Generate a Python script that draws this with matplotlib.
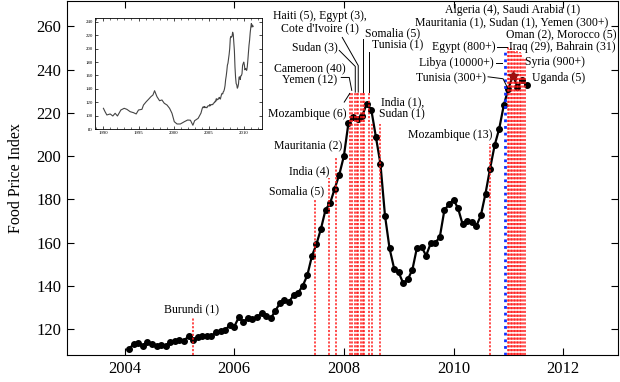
import matplotlib
matplotlib.use("Agg")
import matplotlib.pyplot as plt
import numpy as np

plt.rcParams['font.family'] = ['Liberation Serif', 'DejaVu Serif']

# FAO food price index, monthly, Feb 2004 .. May 2011
fpi = [111, 113, 113.4, 112, 114, 113, 112.2, 112.6, 112, 114.2, 114.7,
       115, 114.5, 116.8, 115, 116.3, 116.8, 116.9, 116.6, 118.6, 119.3, 119.5, 121.8,
       121.1, 125.4, 123.4, 124.9, 124.5, 125.4, 127.5, 126, 124.9, 128.5, 131.9, 133.4,
       132.6, 135.7, 136.8, 140, 144.9, 153.7, 159.3, 166.5, 175.3, 178.3, 185, 191.5,
       200, 215.3, 218, 217, 218.5, 224.3, 221.5, 209, 196.5, 172.5, 157.3, 148,
       146.2, 141.1, 143, 147.5, 157.7, 158, 154, 159.6, 159.9, 162.6, 175, 177.7,
       179.9, 175.8, 168.4, 170, 169.6, 167.7, 172.7, 182.7, 194.2, 205, 212.7, 223.5,
       231.2, 237.3, 232, 235, 232.7]
first_month = 2  # february 2004

# long run series for the inset, 1990-2003 (after that the monthly data above)
inset_years = [1990.0, 1990.24, 1990.49, 1990.96, 1991.34, 1991.67, 1992.0, 1992.49,
               1992.96, 1993.34, 1993.81, 1994.29, 1994.67, 1995.0, 1995.49, 1995.71,
               1996.1, 1996.43, 1996.77, 1997.06, 1997.29, 1997.63, 1998.0, 1998.34,
               1998.67, 1999.06, 1999.43, 1999.77, 2000.1, 2000.49, 2000.96, 2001.53,
               2002.0, 2002.4, 2002.75, 2003.0, 2003.5, 2003.9]
inset_vals = [111.2, 106, 101.3, 102.8, 99.8, 103.8, 99.8, 108.7,
              111.2, 109.7, 106.2, 104.7, 102.8, 108.7, 109.7, 116.1,
              121, 124.6, 128.5, 131, 137.4, 128.5, 122.5, 123.6,
              118.7, 116.1, 111.2, 103.8, 91.3, 87.9, 87.9, 91.3,
              93.8, 93.5, 86, 92.8, 96.3, 104]

# unrest events (red dotted lines): date and how high the line goes
riot_dates = [2005.244, 2007.479, 2007.734, 2007.856,
              2008.107, 2008.144, 2008.208, 2008.235, 2008.262, 2008.311, 2008.341, 2008.372, 2008.454,
              2008.522, 2008.658, 2010.667,
              2010.985, 2011.013, 2011.040, 2011.067, 2011.095, 2011.122, 2011.149,
              2011.177, 2011.204, 2011.231, 2011.259, 2011.295]
riot_tops = [125.7, 179.6, 189.9, 199.6,
             229.6, 229.6, 229.6, 229.6, 229.6, 229.6, 229.6, 229.6, 229.6,
             215, 215, 205.7,
             250.3, 249.5, 250, 248.5, 249, 248, 248.5,
             247.5, 248, 247.5, 246, 245]
warning_date = 2010.94   # report sent, blue line
warning_top = 249

labels = [
    ("Burundi (1)", 2005.214, 129.1, "center"),
    ("Somalia (5)", 2007.643, 183.9, "right"),
    ("India (4)", 2007.734, 193.0, "right"),
    ("Mauritania (2)", 2007.964, 204.7, "right"),
    ("Mozambique (6)", 2008.049, 219.3, "right"),
    ("Cameroon (40)", 2007.370, 240.4, "center"),
    ("Yemen (12)", 2007.379, 235.0, "center"),
    ("Haiti (5), Egypt (3),", 2007.570, 264.7, "center"),
    ("Cote d'Ivoire (1)", 2007.570, 259.3, "center"),
    ("Sudan (3)", 2007.479, 250.4, "center"),
    ("Somalia (5)", 2008.390, 257.0, "left"),
    ("Tunisia (1)", 2008.512, 251.2, "left"),
    ("India (1),", 2008.676, 225.0, "left"),
    ("Sudan (1)", 2008.645, 219.6, "left"),
    ("Mozambique (13)", 2010.708, 209.9, "right"),
    ("Algeria (4), Saudi Arabia (1)", 2011.073, 267.6, "center"),
    ("Mauritania (1), Sudan (1), Yemen (300+)", 2011.058, 261.9, "center"),
    ("Oman (2), Morocco (5)", 2010.964, 255.8, "left"),
    ("Iraq (29), Bahrain (31)", 2011.013, 250.4, "left"),
    ("Egypt (800+)", 2010.770, 250.4, "right"),
    ("Libya (10000+)", 2010.740, 243.2, "right"),
    ("Syria (900+)", 2011.304, 243.5, "left"),
    ("Tunisia (300+)", 2010.599, 236.2, "right"),
    ("Uganda (5)", 2011.426, 236.2, "left"),
]

leaders = [
    [(2008.007, 225.0), (2008.107, 229.0)],
    [(2007.953, 236.4), (2008.098, 236.4), (2008.144, 230.4)],
    [(2007.916, 248.9), (2008.208, 241.5), (2008.208, 229.6)],
    [(2007.971, 254.9), (2008.262, 241.9), (2008.262, 229.6)],
    [(2008.341, 254.0), (2008.341, 229.6)],
    [(2008.454, 248.4), (2008.454, 229.6)],
    [(2010.794, 250.4), (2010.976, 250.4)],
    [(2010.776, 243.2), (2010.885, 243.2)],
    [(2010.630, 236.7), (2010.903, 235.8), (2010.981, 231.8)],
]

x = 2004 + (np.arange(len(fpi)) + first_month - 1) / 12.0
ymin = 108

fig = plt.figure(figsize=(6.2, 3.82), dpi=100)
ax = fig.add_axes([67 / 620, 27 / 382, 551 / 620, 354.5 / 382])

ax.plot(x, fpi, color='black', lw=1.6, marker='o', ms=4, zorder=3)
star = int(np.argmax(fpi))
ax.plot(x[star], fpi[star], marker='*', color='#a01010', ms=7, zorder=6)

for d, t in zip(riot_dates, riot_tops):
    ax.plot([d, d], [ymin, t], color='#ff1a1a', lw=1.1, ls=(0, (1.4, 1.1)), zorder=4)
ax.plot([warning_date, warning_date], [ymin, warning_top], color='#1030ff',
        lw=2.0, ls=(0, (1, 1.4)), zorder=5)

for pts in leaders:
    px, py = zip(*pts)
    ax.plot(px, py, color='black', lw=0.7, zorder=5)

for txt, tx, ty, ha in labels:
    ax.text(tx, ty, txt, ha=ha, va='center', fontsize=8.5, zorder=7)

ax.set_xlim(2002.95, 2013.0)
ax.set_ylim(ymin, 272)
ax.set_xticks([2004, 2006, 2008, 2010, 2012])
ax.set_yticks(np.arange(120, 261, 20))
ax.tick_params(direction='in', top=True, right=True, length=5, labelsize=12, pad=4)
ax.set_ylabel("Food Price Index", fontsize=11.5)
ax.yaxis.set_label_coords(-0.078, 0.5)

# inset with the long series
ins = fig.add_axes([95 / 620, 1 - 129.3 / 382, 167 / 620, 111 / 382])
ins.plot(list(inset_years) + list(x), list(inset_vals) + list(fpi), color='#444444', lw=0.8)
ins.set_xlim(1988.8, 2012.6)
ins.set_ylim(80, 245)
ins.set_xticks([1990, 1995, 2000, 2005, 2010])
ins.set_xticks(np.arange(1989, 2013), minor=True)
ins.set_yticks(np.arange(80, 241, 20))
ins.tick_params(direction='in', top=True, right=True, length=2, width=0.5,
                labelsize=3.5, pad=1.5)
ins.tick_params(which='minor', direction='in', top=True, length=1.2, width=0.4)
for s in ins.spines.values():
    s.set_linewidth(0.6)

fig.savefig("out.png", dpi=100)
